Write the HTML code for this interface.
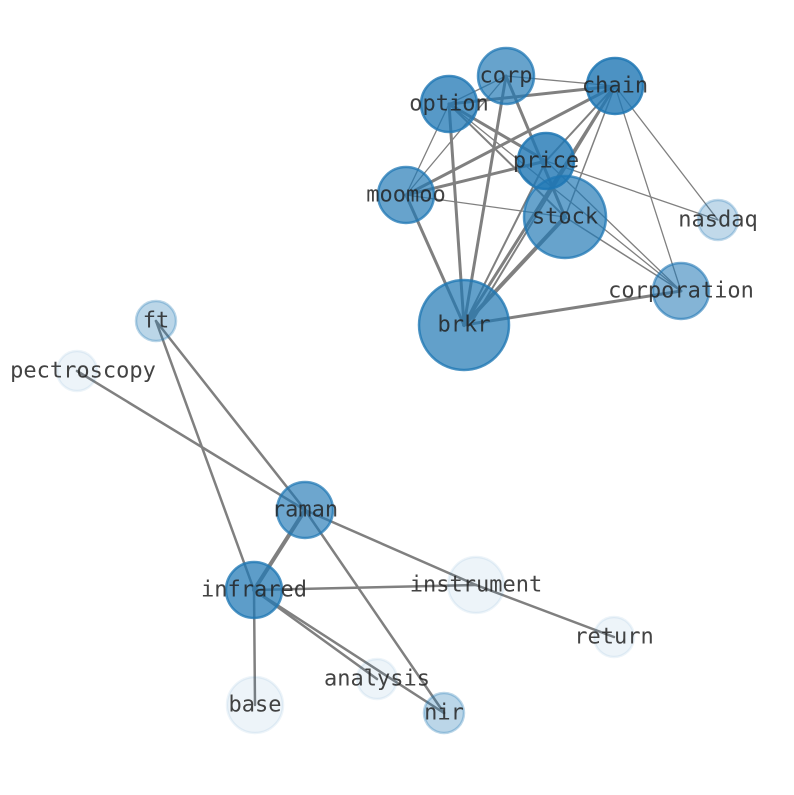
<!DOCTYPE html>
<html><head><meta charset="utf-8"><style>html,body{margin:0;background:#fff}</style></head><body>
<svg width="794" height="790" xmlns="http://www.w3.org/2000/svg">
<g stroke="#808080" fill="none" stroke-linecap="round">
<line x1="506" y1="76" x2="615" y2="86" stroke-width="1.3"/>
<line x1="506" y1="76" x2="449" y2="104" stroke-width="1.3"/>
<line x1="506" y1="76" x2="406" y2="195" stroke-width="1.3"/>
<line x1="506" y1="76" x2="464" y2="325" stroke-width="3"/>
<line x1="506" y1="76" x2="565" y2="217" stroke-width="3"/>
<line x1="615" y1="86" x2="449" y2="104" stroke-width="3"/>
<line x1="615" y1="86" x2="406" y2="195" stroke-width="3"/>
<line x1="615" y1="86" x2="546" y2="161" stroke-width="2"/>
<line x1="615" y1="86" x2="565" y2="217" stroke-width="1.5"/>
<line x1="615" y1="86" x2="464" y2="325" stroke-width="3"/>
<line x1="615" y1="86" x2="470" y2="325" stroke-width="2"/>
<line x1="615" y1="86" x2="718" y2="220" stroke-width="1.3"/>
<line x1="615" y1="86" x2="681" y2="291" stroke-width="1.3"/>
<line x1="449" y1="104" x2="406" y2="195" stroke-width="1.3"/>
<line x1="449" y1="104" x2="464" y2="325" stroke-width="3"/>
<line x1="449" y1="104" x2="546" y2="161" stroke-width="3"/>
<line x1="449" y1="104" x2="565" y2="217" stroke-width="2"/>
<line x1="449" y1="104" x2="681" y2="291" stroke-width="1.3"/>
<line x1="546" y1="161" x2="406" y2="195" stroke-width="3"/>
<line x1="546" y1="161" x2="718" y2="220" stroke-width="1.3"/>
<line x1="546" y1="161" x2="464" y2="325" stroke-width="2"/>
<line x1="546" y1="161" x2="681" y2="291" stroke-width="1.3"/>
<line x1="406" y1="195" x2="565" y2="217" stroke-width="1.3"/>
<line x1="406" y1="195" x2="464" y2="325" stroke-width="3"/>
<line x1="565" y1="217" x2="464" y2="325" stroke-width="4"/>
<line x1="565" y1="217" x2="681" y2="291" stroke-width="1.5"/>
<line x1="464" y1="325" x2="681" y2="291" stroke-width="3"/>
<line x1="156" y1="321" x2="305" y2="510" stroke-width="2.5"/>
<line x1="156" y1="321" x2="254" y2="590" stroke-width="2.5"/>
<line x1="77" y1="371" x2="305" y2="510" stroke-width="2.5"/>
<line x1="305" y1="510" x2="254" y2="590" stroke-width="4"/>
<line x1="305" y1="510" x2="476" y2="585" stroke-width="2.5"/>
<line x1="305" y1="510" x2="444" y2="713" stroke-width="2.5"/>
<line x1="254" y1="590" x2="476" y2="585" stroke-width="2.5"/>
<line x1="254" y1="590" x2="255" y2="705" stroke-width="2.5"/>
<line x1="254" y1="590" x2="377" y2="679" stroke-width="2.5"/>
<line x1="254" y1="590" x2="444" y2="713" stroke-width="2.5"/>
<line x1="476" y1="585" x2="614" y2="637" stroke-width="2.5"/>
</g>
<g stroke-width="2.5">
<circle cx="506" cy="76" r="28" fill="rgba(31,119,180,0.68)" stroke="rgba(31,119,180,0.75)"/>
<circle cx="615" cy="86" r="28" fill="rgba(31,119,180,0.8)" stroke="rgba(31,119,180,0.85)"/>
<circle cx="449" cy="104" r="28" fill="rgba(31,119,180,0.75)" stroke="rgba(31,119,180,0.8)"/>
<circle cx="406" cy="195" r="28" fill="rgba(31,119,180,0.68)" stroke="rgba(31,119,180,0.75)"/>
<circle cx="565" cy="217" r="41" fill="rgba(31,119,180,0.68)" stroke="rgba(31,119,180,0.75)"/>
<circle cx="546" cy="161" r="28" fill="rgba(31,119,180,0.8)" stroke="rgba(31,119,180,0.85)"/>
<circle cx="718" cy="220" r="20" fill="rgba(31,119,180,0.28)" stroke="rgba(31,119,180,0.28)"/>
<circle cx="681" cy="291" r="28" fill="rgba(31,119,180,0.55)" stroke="rgba(31,119,180,0.6)"/>
<circle cx="464" cy="325" r="45" fill="rgba(31,119,180,0.7)" stroke="rgba(31,119,180,0.78)"/>
<circle cx="156" cy="321" r="20" fill="rgba(31,119,180,0.3)" stroke="rgba(31,119,180,0.3)"/>
<circle cx="77" cy="371" r="20" fill="rgba(31,119,180,0.08)" stroke="rgba(31,119,180,0.08)"/>
<circle cx="305" cy="510" r="28" fill="rgba(31,119,180,0.65)" stroke="rgba(31,119,180,0.72)"/>
<circle cx="254" cy="590" r="28" fill="rgba(31,119,180,0.72)" stroke="rgba(31,119,180,0.78)"/>
<circle cx="476" cy="585" r="28" fill="rgba(31,119,180,0.08)" stroke="rgba(31,119,180,0.08)"/>
<circle cx="614" cy="637" r="20" fill="rgba(31,119,180,0.08)" stroke="rgba(31,119,180,0.08)"/>
<circle cx="377" cy="679" r="20" fill="rgba(31,119,180,0.08)" stroke="rgba(31,119,180,0.08)"/>
<circle cx="444" cy="713" r="20" fill="rgba(31,119,180,0.3)" stroke="rgba(31,119,180,0.3)"/>
<circle cx="255" cy="705" r="28" fill="rgba(31,119,180,0.08)" stroke="rgba(31,119,180,0.08)"/>
</g>
<g font-family="DejaVu Sans Mono, Liberation Mono, monospace" font-size="22" fill="#222" fill-opacity="0.85" text-anchor="middle" dominant-baseline="central">
<text x="506" y="76">corp</text>
<text x="615" y="86">chain</text>
<text x="449" y="104">option</text>
<text x="406" y="195">moomoo</text>
<text x="565" y="217">stock</text>
<text x="546" y="161">price</text>
<text x="718" y="220">nasdaq</text>
<text x="681" y="291">corporation</text>
<text x="464" y="325">brkr</text>
<text x="156" y="321">ft</text>
<text x="83" y="371">pectroscopy</text>
<text x="305" y="510">raman</text>
<text x="254" y="590">infrared</text>
<text x="476" y="585">instrument</text>
<text x="614" y="637">return</text>
<text x="377" y="679">analysis</text>
<text x="444" y="713">nir</text>
<text x="255" y="705">base</text>
</g>
</svg>
</body></html>
